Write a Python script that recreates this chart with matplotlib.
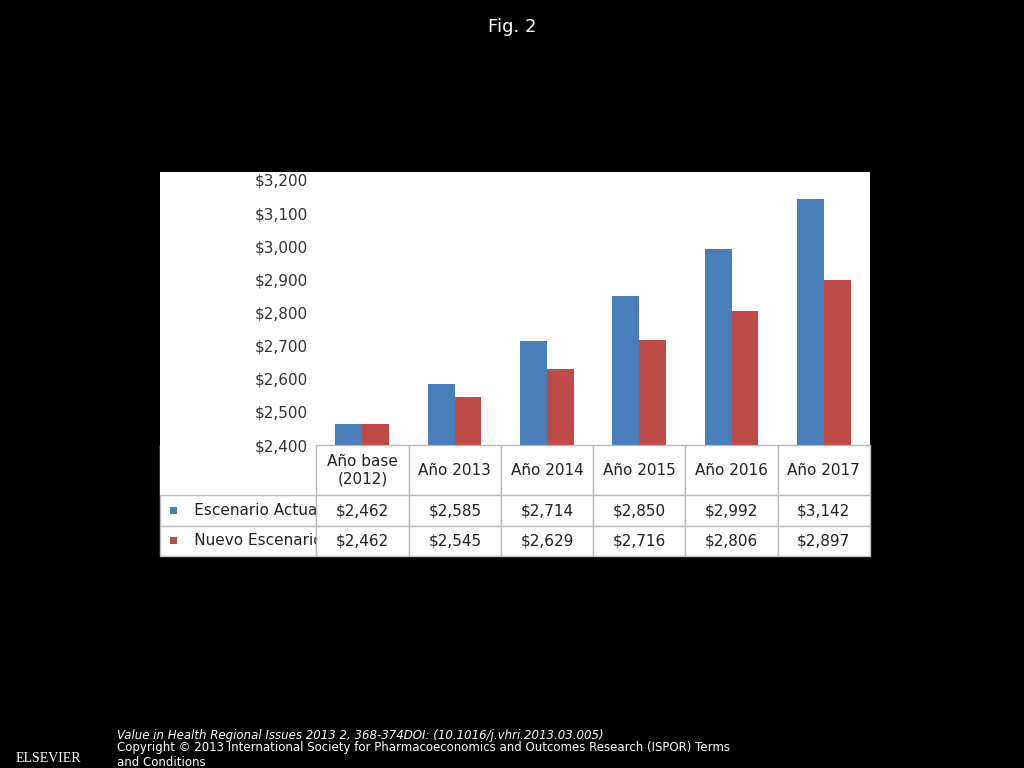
import matplotlib
matplotlib.use("Agg")
import matplotlib.pyplot as plt
from matplotlib.patches import Rectangle
import numpy as np

categories = ["Año base\n(2012)", "Año 2013", "Año 2014", "Año 2015", "Año 2016", "Año 2017"]
actual = [2462, 2585, 2714, 2850, 2992, 3142]
nuevo = [2462, 2545, 2629, 2716, 2806, 2897]
series_names = ["Escenario Actual", "Nuevo Escenario"]
yticks = [2400, 2500, 2600, 2700, 2800, 2900, 3000, 3100, 3200]

blue = "#4a7ebb"
red = "#be4b48"

fig = plt.figure(figsize=(10.24, 7.68), dpi=100, facecolor="black")
fig.patches.append(Rectangle((160/1024, 1-556/768), 710/1024, 384/768,
                             transform=fig.transFigure, facecolor="white", edgecolor="none", zorder=-5))
ax = fig.add_axes([316/1024, 1-445/768, 554/1024, 265/768])
ax.set_zorder(2)
ax.set_facecolor("white")
x = np.arange(len(categories))
w = 0.29
ax.bar(x - w/2, actual, w, color=blue)
ax.bar(x + w/2, nuevo, w, color=red)
ax.set_xlim(-0.5, len(categories)-0.5)
ax.set_ylim(2400, 3200)
ax.set_yticks(yticks)
ax.set_yticklabels([f"${v:,}" for v in yticks], fontsize=11, color="#333333")
ax.tick_params(axis="y", length=0, pad=6)
ax.set_xticks([])
for s in ["top", "right", "left"]:
    ax.spines[s].set_visible(False)
ax.spines["bottom"].set_color("#bbbbbb")

rows = [[""] + categories,
        ["      " + series_names[0]] + [f"${v:,}" for v in actual],
        ["      " + series_names[1]] + [f"${v:,}" for v in nuevo]]
left = (160-316)/554
tb = ax.table(cellText=rows, cellLoc="center", bbox=[left, -111/265, 1-left, 111/265],
              colWidths=[156/554] + [92/554]*6)
tb.auto_set_font_size(False)
for (r, c), cell in tb.get_celld().items():
    cell.set_edgecolor("#bbbbbb")
    cell.set_fontsize(11)
    cell.get_text().set_color("#222222")
    if r == 0:
        cell.set_height(50/265)
    else:
        cell.set_height(30/265)
    if c == 0:
        cell.set_text_props(ha="left")
        cell.PAD = 0.03
tb._cells[(0, 0)].set_edgecolor("white")
for i, col in enumerate([blue, red]):
    yc = 1 - (510 + 30*i)/768
    fig.patches.append(Rectangle((170/1024, yc-3.5/768), 7/1024, 7/768,
                                 transform=fig.transFigure, facecolor=col, edgecolor="none", zorder=10))

fig.text(0.5, 1-27/768, "Fig. 2", color="white", fontsize=13, ha="center", va="center")
fig.text(117/1024, 1-735/768, "Value in Health Regional Issues 2013 2, 368-374DOI: (10.1016/j.vhri.2013.03.005)",
         color="white", fontsize=8.5, style="italic", va="center")
fig.text(117/1024, 1-748/768, "Copyright © 2013 International Society for Pharmacoeconomics and Outcomes Research (ISPOR) Terms",
         color="white", fontsize=8.5, va="center")
fig.text(117/1024, 1-762/768, "and Conditions", color="white", fontsize=8.5, va="center")
fig.text(48/1024, 1-758/768, "ELSEVIER", color="white", fontsize=10, ha="center", va="center", family="Liberation Serif")
fig.savefig("out.png", dpi=100, facecolor="black")
